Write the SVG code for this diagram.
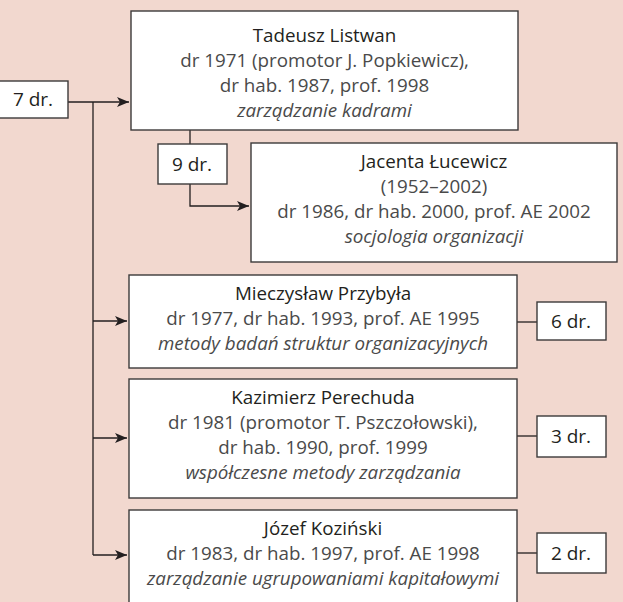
<svg xmlns="http://www.w3.org/2000/svg" width="623" height="602" viewBox="0 0 623 602">
<defs>
<marker id="arr" viewBox="0 0 12 10" refX="12" refY="5" markerWidth="12" markerHeight="10" markerUnits="userSpaceOnUse" orient="auto">
<path d="M0,0 L12,5 L0,10 L3,5 Z" fill="#231f20"/>
</marker>
<style>
.box{fill:#ffffff;stroke:#3c3a3a;stroke-width:1.4}
.ln{fill:none;stroke:#231f20;stroke-width:1.3}
text{font-family:"Open Sans","Noto Sans",sans-serif;font-size:18.8px;text-anchor:middle;fill:#4a4a4a}
.nm{fill:#231f20}
.it{font-style:italic}
.cnt{fill:#231f20;font-size:19px}
</style>
</defs>
<rect x="0" y="0" width="623" height="602" fill="#f2d8cf"/>
<g id="connectors">
<path class="ln" d="M68,102 H129" marker-end="url(#arr)"/>
<path class="ln" d="M93,102 V555"/>
<path class="ln" d="M93,321 H127" marker-end="url(#arr)"/>
<path class="ln" d="M93,438 H127" marker-end="url(#arr)"/>
<path class="ln" d="M93,555 H127" marker-end="url(#arr)"/>
<path class="ln" d="M190,130 V144"/>
<path class="ln" d="M190,184 V206 H249" marker-end="url(#arr)"/>
<path class="ln" d="M517,322 H537"/>
<path class="ln" d="M517,436 H537"/>
<path class="ln" d="M517,553 H537"/>
</g>
<g id="count7"><rect class="box" x="-2" y="81" width="70" height="37"/><text class="cnt" x="33" y="106">7 dr.</text></g>
<g id="count9"><rect class="box" x="158" y="144" width="69" height="40"/><text class="cnt" x="192" y="171">9 dr.</text></g>
<g id="count6"><rect class="box" x="537" y="302" width="69" height="38"/><text class="cnt" x="571" y="328">6 dr.</text></g>
<g id="count3"><rect class="box" x="537" y="416" width="69" height="41"/><text class="cnt" x="571" y="443">3 dr.</text></g>
<g id="count2"><rect class="box" x="537" y="533" width="69" height="40"/><text class="cnt" x="571" y="560">2 dr.</text></g>
<g id="listwan">
<rect class="box" x="131" y="11" width="387" height="119"/>
<text class="nm" x="324.5" y="42">Tadeusz Listwan</text>
<text x="324.5" y="67">dr 1971 (promotor J. Popkiewicz),</text>
<text x="324.5" y="92">dr hab. 1987, prof. 1998</text>
<text class="it" x="324.5" y="117">zarządzanie kadrami</text>
</g>
<g id="lucewicz">
<rect class="box" x="251" y="143" width="366" height="119"/>
<text class="nm" x="434" y="168">Jacenta Łucewicz</text>
<text x="434" y="193">(1952–2002)</text>
<text x="434" y="218">dr 1986, dr hab. 2000, prof. AE 2002</text>
<text class="it" x="434" y="243">socjologia organizacji</text>
</g>
<g id="przybyla">
<rect class="box" x="129" y="275" width="388" height="93"/>
<text class="nm" x="323" y="300">Mieczysław Przybyła</text>
<text x="323" y="325">dr 1977, dr hab. 1993, prof. AE 1995</text>
<text class="it" x="323" y="350">metody badań struktur organizacyjnych</text>
</g>
<g id="perechuda">
<rect class="box" x="129" y="379" width="388" height="119"/>
<text class="nm" x="323" y="404">Kazimierz Perechuda</text>
<text x="323" y="429">dr 1981 (promotor T. Pszczołowski),</text>
<text x="323" y="454">dr hab. 1990, prof. 1999</text>
<text class="it" x="323" y="479">współczesne metody zarządzania</text>
</g>
<g id="kozinski">
<rect class="box" x="129" y="510" width="388" height="100"/>
<text class="nm" x="323" y="535">Józef Koziński</text>
<text x="323" y="560">dr 1983, dr hab. 1997, prof. AE 1998</text>
<text class="it" x="323" y="585">zarządzanie ugrupowaniami kapitałowymi</text>
</g>
</svg>
